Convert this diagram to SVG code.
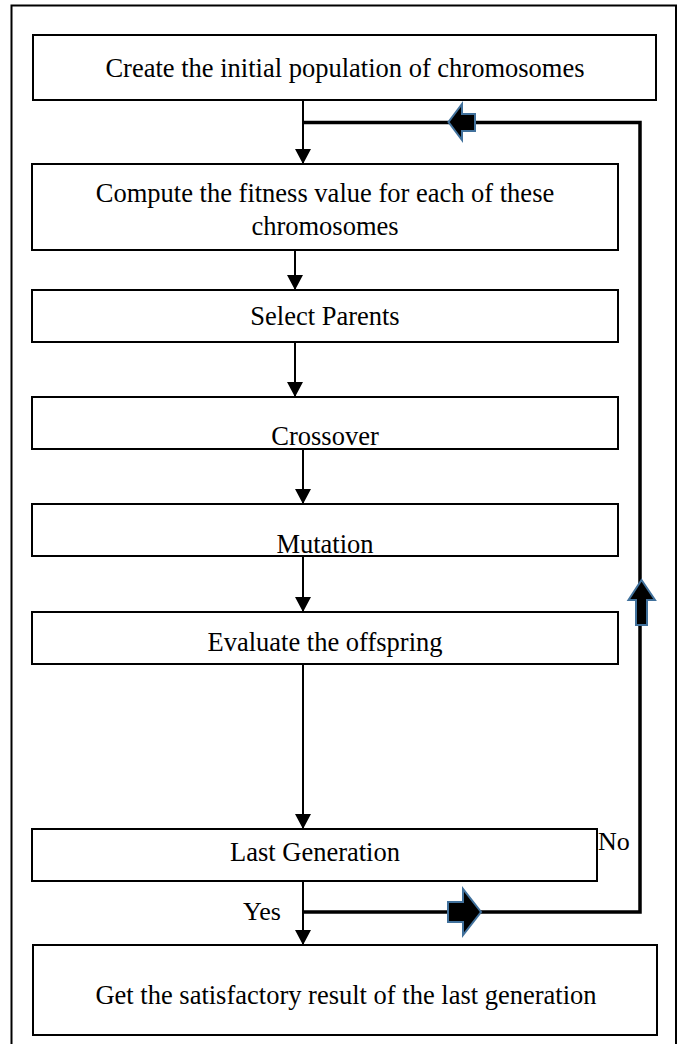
<svg xmlns="http://www.w3.org/2000/svg" width="682" height="1044" viewBox="0 0 682 1044">
<defs>
<style>
.box{fill:#fff;stroke:#000;stroke-width:2}
.t{font-family:"Liberation Serif","Times New Roman",serif;font-size:26.5px;fill:#000;text-anchor:middle}
.lbl{font-family:"Liberation Serif","Times New Roman",serif;font-size:26px;fill:#000}
.ln{stroke:#000;stroke-width:2;fill:none}
.fb{stroke:#000;stroke-width:3.5;fill:none}
.blk{fill:#000;stroke:#41719c;stroke-width:2;stroke-linejoin:miter}
</style>
<marker id="ah" viewBox="0 0 15 16" refX="15" refY="8" markerWidth="15" markerHeight="16" markerUnits="userSpaceOnUse" orient="auto">
<path d="M0,0 L15,8 L0,16 Z" fill="#000"/>
</marker>
</defs>
<rect x="11.5" y="5.5" width="664.5" height="1050" fill="#fff" stroke="#000" stroke-width="2"/>
<g id="connectors">
<line class="ln" x1="303" y1="100" x2="303" y2="164" marker-end="url(#ah)"/>
<line class="ln" x1="295" y1="250" x2="295" y2="290" marker-end="url(#ah)"/>
<line class="ln" x1="295" y1="342" x2="295" y2="397" marker-end="url(#ah)"/>
<line class="ln" x1="303" y1="449" x2="303" y2="504" marker-end="url(#ah)"/>
<line class="ln" x1="303" y1="556" x2="303" y2="612" marker-end="url(#ah)"/>
<line class="ln" x1="303" y1="664" x2="303" y2="829" marker-end="url(#ah)"/>
<line class="ln" x1="303" y1="881" x2="303" y2="945" marker-end="url(#ah)"/>
<polyline class="fb" points="303,912 640,912 640,122.5 303,122.5"/>
<path class="blk" d="M448,902 L463,902 L463,889 L481,912 L463,935 L463,922 L448,922 Z"/>
<path class="blk" d="M636,625 L636,600 L628.5,600 L641.5,580 L655,600 L647,600 L647,625 Z"/>
<path class="blk" d="M475,114 L462,114 L462,104 L448.5,122 L462,140 L462,131 L475,131 Z"/>
</g>
<g id="n1"><rect class="box" x="33" y="35" width="623" height="65"/><text class="t" x="345" y="77">Create the initial population of chromosomes</text></g>
<g id="n2"><rect class="box" x="32" y="164" width="586" height="86"/><text class="t" x="325" y="202">Compute the fitness value for each of these</text><text class="t" x="325" y="235">chromosomes</text></g>
<g id="n3"><rect class="box" x="32" y="290" width="586" height="52"/><text class="t" x="325" y="325">Select Parents</text></g>
<g id="n4"><rect class="box" x="32" y="397" width="586" height="52"/><text class="t" x="325" y="445">Crossover</text></g>
<g id="n5"><rect class="box" x="32" y="504" width="586" height="52"/><text class="t" x="325" y="553">Mutation</text></g>
<g id="n6"><rect class="box" x="32" y="612" width="586" height="52"/><text class="t" x="325" y="651">Evaluate the offspring</text></g>
<g id="n7"><rect class="box" x="32" y="829" width="565" height="52"/><text class="t" x="315" y="861">Last Generation</text></g>
<text class="lbl" x="598" y="850">No</text>
<text class="lbl" x="243" y="920">Yes</text>
<g id="n8"><rect class="box" x="33" y="945" width="624" height="90"/><text class="t" x="346" y="1004">Get the satisfactory result of the last generation</text></g>
</svg>
